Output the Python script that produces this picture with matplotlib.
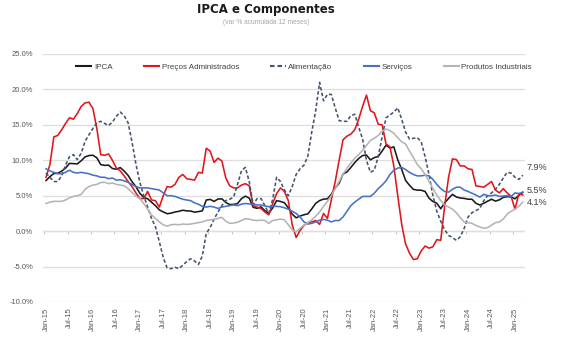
import numpy as np
import pandas as pd
import matplotlib
matplotlib.use("Agg")
import matplotlib.pyplot as plt
from matplotlib.lines import Line2D

# var % acumulada 12 meses, Jan-15 .. Mar-25
ipca = [7.14, 7.70, 8.13, 8.17, 8.47, 8.89, 9.56, 9.53, 9.49, 9.93, 10.48, 10.67,
        10.71, 10.36, 9.39, 9.28, 9.32, 8.84, 8.74, 8.97, 8.48, 7.87, 6.99, 6.29,
        5.35, 4.76, 4.57, 4.08, 3.60, 3.00, 2.71, 2.46, 2.54, 2.70, 2.80, 2.95,
        2.86, 2.84, 2.68, 2.76, 2.86, 4.39, 4.48, 4.19, 4.53, 4.56, 4.05, 3.75,
        3.78, 3.89, 4.58, 4.94, 4.66, 3.37, 3.22, 3.43, 2.89, 2.54, 3.27, 4.31,
        4.19, 4.01, 3.30, 2.40, 1.88, 2.13, 2.31, 2.44, 3.14, 3.92, 4.31, 4.52,
        4.56, 5.20, 6.10, 6.76, 8.06, 8.35, 8.99, 9.68, 10.25, 10.67, 10.74, 10.06,
        10.38, 10.54, 11.30, 12.13, 11.73, 11.89, 10.07, 8.73, 7.17, 6.47, 5.90, 5.79,
        5.77, 5.60, 4.65, 4.18, 3.94, 3.16, 3.99, 4.61, 5.19, 4.82, 4.68, 4.62,
        4.51, 4.50, 3.93, 3.69, 3.93, 4.23, 4.50, 4.24, 4.42, 4.76, 4.87, 4.83,
        4.56, 5.06, 5.48]

administrados = [7.6, 9.4, 13.3, 13.5, 14.3, 15.2, 16.0, 15.8, 16.6, 17.6, 18.1, 18.2,
                 17.3, 14.5, 10.8, 10.7, 10.9, 10.0, 8.9, 8.5, 7.8, 7.0, 6.3, 5.4,
                 4.6, 4.6, 5.6, 4.4, 4.3, 3.4, 5.0, 6.3, 6.2, 6.6, 7.6, 8.0,
                 7.4, 7.3, 7.2, 8.3, 8.2, 11.7, 11.3, 9.7, 10.3, 9.9, 7.5, 6.4,
                 6.1, 6.1, 6.5, 6.7, 6.4, 3.6, 3.4, 3.2, 2.7, 2.3, 3.9, 5.3,
                 6.1, 5.6, 4.3, 0.9, -0.9, 0.1, 0.8, 1.2, 1.3, 1.5, 0.95, 2.5,
                 1.8, 4.4, 7.0, 10.0, 12.9, 13.4, 13.7, 14.3, 15.8, 17.6, 19.2, 17.0,
                 16.7, 15.1, 15.0, 12.3, 11.9, 9.2, 5.0, 1.0, -1.8, -3.1, -4.0, -3.9,
                 -2.8, -2.1, -2.4, -2.2, -1.2, -1.3, 3.5, 7.6, 10.2, 10.1, 9.2, 9.2,
                 8.8, 8.7, 6.4, 6.3, 6.2, 6.6, 7.0, 5.8, 5.4, 6.0, 5.4, 4.9,
                 3.1, 5.3, 5.1]

alimentacao = [8.2, 7.6, 7.0, 7.0, 7.8, 9.3, 10.5, 10.8, 10.1, 11.0, 12.7, 13.6,
               14.5, 15.3, 15.5, 15.2, 14.9, 15.4, 16.2, 16.8, 16.3, 15.3, 12.6, 9.5,
               6.9, 5.0, 3.4, 1.8, 0.6, -1.5, -3.7, -5.2, -5.3, -5.1, -5.3, -4.8,
               -4.3, -3.9, -4.2, -4.7, -3.5, -0.3, 0.5, 1.7, 2.7, 3.6, 4.3, 4.5,
               4.8, 6.6, 8.5, 9.0, 7.0, 3.7, 4.6, 4.6, 3.6, 2.5, 4.5, 7.6,
               7.0, 5.8, 5.0, 6.3, 8.0, 8.8, 9.3, 10.6, 14.0, 17.0, 21.0, 18.4,
               19.3, 19.3, 17.4, 15.6, 15.5, 15.5, 16.3, 16.5, 14.7, 13.0, 10.0, 8.3,
               8.6, 10.5, 13.3, 16.0, 16.4, 16.8, 17.4, 15.8, 14.0, 13.0, 13.1, 13.2,
               12.6, 10.5, 8.0, 5.0, 2.8, 1.4, 0.2, -0.6, -0.9, -1.3, -0.8, 0.4,
               2.0, 2.6, 2.9, 3.2, 4.3, 5.0, 5.4, 5.9, 6.6, 7.5, 8.3, 8.2,
               7.6, 7.3, 7.9]

servicos = [8.8, 8.5, 8.3, 8.1, 8.1, 8.3, 8.6, 8.3, 8.2, 8.3, 8.2, 8.1,
            7.9, 7.8, 7.6, 7.6, 7.4, 7.5, 7.2, 7.25, 7.1, 6.9, 6.6, 6.3,
            6.1, 6.1, 6.1, 6.0, 5.9, 5.8, 5.4, 5.0, 5.0, 4.9, 4.7, 4.5,
            4.4, 4.3, 4.0, 3.8, 3.5, 3.4, 3.5, 3.4, 3.2, 3.4, 3.5, 3.6,
            3.7, 3.6, 3.8, 3.9, 3.85, 3.8, 3.7, 3.7, 3.55, 3.45, 3.5, 3.5,
            3.45, 3.3, 3.1, 2.8, 2.5, 2.0, 1.3, 1.0, 1.1, 1.3, 1.55, 1.65,
            1.55, 1.3, 1.5, 1.5, 2.0, 2.8, 3.6, 4.1, 4.5, 4.9, 4.9, 4.9,
            5.35, 6.0, 6.5, 7.1, 8.0, 8.6, 8.9, 9.0, 8.7, 8.3, 8.0, 7.8,
            7.8, 7.9, 7.8, 7.3, 6.6, 6.0, 5.6, 5.5, 5.9, 6.2, 6.2, 5.8,
            5.6, 5.35, 5.1, 4.8, 5.2, 5.0, 5.0, 5.1, 4.9, 4.95, 5.0, 4.9,
            5.4, 5.3, 5.5]

industriais = [3.9, 4.1, 4.2, 4.2, 4.2, 4.4, 4.7, 4.9, 5.0, 5.2, 5.9, 6.3,
               6.5, 6.6, 6.85, 6.9, 6.7, 6.8, 6.6, 6.5, 6.4, 6.0, 5.45, 4.95,
               4.6, 3.9, 3.1, 2.3, 1.8, 1.3, 0.9, 0.7, 0.9, 0.95, 0.9, 1.0,
               0.95, 1.0, 1.1, 1.2, 1.3, 1.5, 1.6, 1.65, 1.8, 1.95, 1.4, 1.1,
               1.15, 1.25, 1.5, 1.75, 1.7, 1.55, 1.5, 1.55, 1.5, 1.1, 1.5, 1.6,
               1.7, 1.6, 0.9, 0.2, -0.1, 0.4, 0.85, 1.2, 1.6, 2.1, 2.7, 3.5,
               4.2, 5.0, 6.0, 7.0, 8.0, 8.9, 9.6, 10.3, 10.8, 11.4, 12.1, 12.8,
               13.1, 13.5, 14.1, 14.4, 14.2, 13.8, 13.2, 12.6, 12.3, 11.3, 10.4, 9.4,
               8.8, 8.0, 7.0, 6.0, 5.1, 4.3, 3.7, 3.4, 3.1, 2.6, 1.9, 1.3,
               1.2, 1.1, 0.8, 0.6, 0.4, 0.5, 0.85, 1.2, 1.3, 1.7, 2.4, 2.8,
               3.1, 3.5, 4.1]

tickLabels = ["Jan-15", "Jul-15", "Jan-16", "Jul-16", "Jan-17", "Jul-17", "Jan-18",
              "Jul-18", "Jan-19", "Jul-19", "Jan-20", "Jul-20", "Jan-21", "Jul-21",
              "Jan-22", "Jul-22", "Jan-23", "Jul-23", "Jan-24", "Jul-24", "Jan-25"]

months = pd.date_range("2015-01-01", periods=len(ipca), freq="MS")
x = np.arange(len(months))

gridColor = "#dedede"
textColor = "#595959"
font = "Liberation Sans"

fig = plt.figure(figsize=(5.82, 3.63), dpi=100)
ax = fig.add_axes([43 / 582, 1 - 302 / 363, 482 / 582, 248 / 363])

series = [
    (ipca, "IPCA", "#1a1a1a", "-"),
    (administrados, "Preços Administrados", "#e0161b", "-"),
    (alimentacao, "Alimentação", "#44546a", (0, (2.2, 1.4))),
    (servicos, "Serviços", "#4472c4", "-"),
    (industriais, "Produtos Industriais", "#b4b4b4", "-"),
]

handles = []
for values, name, color, style in series:
    ax.plot(x, values, color=color, linestyle=style, linewidth=1.15, zorder=3)
    handles.append(Line2D([], [], color=color, linestyle=style, linewidth=1.5, label=name))

ax.set_xlim(-0.77, len(x) - 1 + 0.56)
ax.set_ylim(-10, 25)

yt = np.arange(-10, 26, 5)
ax.set_yticks(yt)
ax.set_yticklabels(["{:.1f}%".format(v) for v in yt], fontsize=5.5, color=textColor, family=font)
ax.grid(axis="y", color=gridColor, linewidth=0.9, zorder=0)
ax.tick_params(axis="y", length=0, pad=7)

tickPos = [months.get_loc(pd.Timestamp(t.replace("-", " 20"))) for t in tickLabels]
ax.set_xticks(tickPos)
ax.set_xticklabels(tickLabels, rotation=90, fontsize=5.5, color=textColor, family=font)
ax.tick_params(axis="x", length=0, pad=4)

# eixo horizontal no zero, com marcas entre categorias
ax.axhline(0, color="#c8c8c8", linewidth=0.9, zorder=1)
ax.vlines(np.array(tickPos) - 0.5, -0.45, 0, color="#c8c8c8", linewidth=0.8, zorder=1)

for spine in ax.spines.values():
    spine.set_visible(False)

# rótulos do último ponto
endLabels = [(alimentacao, 5.5), (servicos, 1.0), (industriais, 0.0)]
for values, dy in endLabels:
    ax.annotate("{:.1f}%".format(values[-1]), xy=(x[-1], values[-1]), xytext=(3, dy),
                textcoords="offset points", va="center", ha="left",
                fontsize=6.5, color="#404040", family=font, annotation_clip=False)

leg = ax.legend(handles=handles, ncol=5, loc="center", frameon=False,
                bbox_to_anchor=(304 / 582, 1 - 67 / 363), bbox_transform=fig.transFigure,
                prop={"family": font, "size": 5.8}, handlelength=1.9,
                handletextpad=0.3, columnspacing=3.9)
for t in leg.get_texts():
    t.set_color("#404040")

fig.text(266 / 582, 1 - 10 / 363, "IPCA e Componentes", ha="center", va="center",
         fontsize=8.5, fontweight="bold", color="#1a1a1a")
fig.text(266 / 582, 1 - 23 / 363, "(var % acumulada 12 meses)", ha="center", va="center",
         fontsize=4.8, color="#a6a6a6", family=font)

fig.savefig("out.png", dpi=100)
